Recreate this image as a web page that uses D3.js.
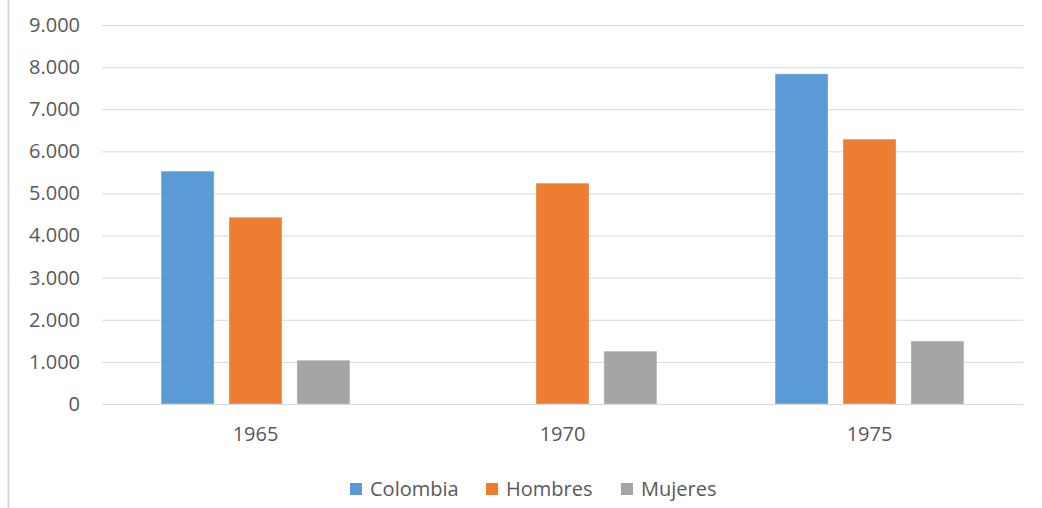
<!DOCTYPE html>
<html>
<head>
<meta charset="utf-8">
<script src="https://cdn.jsdelivr.net/npm/d3@7"></script>
<style>
  html, body { margin: 0; padding: 0; background: #fff; }
  svg { display: block; font-family: "Open Sans", "Noto Sans", sans-serif; }
</style>
</head>
<body>
<svg id="chart" width="1042" height="508"></svg>
<script>
// Population figures by year (thousands separator is ".")
const years = ["1965", "1970", "1975"];
const seriesNames = ["Colombia", "Hombres", "Mujeres"];
const colombia = [5530, null, 7840];
const hombres = [4435, 5245, 6290];
const mujeres = [1040, 1255, 1495];
const yTicks = [0, 1000, 2000, 3000, 4000, 5000, 6000, 7000, 8000, 9000];
const colors = ["#5B9BD5", "#ED7D31", "#A5A5A5"];

const seriesValues = [colombia, hombres, mujeres];

const svg = d3.select("#chart");
const plot = { left: 102, right: 1023, top: 25, bottom: 404 };
const fontSize = "20px";

// Thin frame line on the left edge
svg.append("line")
  .attr("x1", 8.5).attr("x2", 8.5).attr("y1", 0).attr("y2", 508)
  .attr("stroke", "#d9d9d9").attr("stroke-width", 2);

const y = d3.scaleLinear().domain([0, 9000]).range([plot.bottom, plot.top]);
const x0 = d3.scaleBand().domain(years).range([plot.left, plot.right]).padding(0);
const x1 = d3.scaleBand().domain(seriesNames).range([0, x0.bandwidth()])
  .paddingInner(0.22).paddingOuter(0.87);

const fmt = v => v === 0 ? "0" : d3.format(",")(v).replace(/,/g, ".");

// Horizontal gridlines with tick labels
const yAxis = d3.axisLeft(y).tickValues(yTicks).tickSize(-(plot.right - plot.left))
  .tickFormat(fmt).tickPadding(22);
const gy = svg.append("g").attr("transform", `translate(${plot.left},0)`).call(yAxis);
gy.select(".domain").remove();
gy.selectAll(".tick line").attr("stroke", "#d9d9d9").attr("stroke-width", 1);
gy.selectAll(".tick text").attr("fill", "#595959").style("font-size", fontSize)
  .style("font-family", "'Open Sans', sans-serif");

// Bars
const groups = svg.append("g").selectAll("g")
  .data(years).join("g")
  .attr("transform", d => `translate(${x0(d)},0)`);

groups.selectAll("rect")
  .data((d, i) => seriesNames.map((s, j) => ({ s, v: seriesValues[j][i], c: colors[j] }))
    .filter(e => e.v != null))
  .join("rect")
  .attr("x", d => x1(d.s))
  .attr("width", x1.bandwidth())
  .attr("y", d => y(d.v))
  .attr("height", d => y(0) - y(d.v))
  .attr("fill", d => d.c)
  .attr("stroke", "#ffffff").attr("stroke-opacity", 0.35).attr("stroke-width", 1);

// Category axis
const xAxis = d3.axisBottom(x0).tickSize(0).tickPadding(23);
const gx = svg.append("g").attr("transform", `translate(0,${plot.bottom})`).call(xAxis);
gx.select(".domain").attr("stroke", "#d9d9d9").attr("d", `M${plot.left},0.5H${plot.right}`);
gx.selectAll(".tick text").attr("fill", "#595959").style("font-size", fontSize)
  .style("font-family", "'Open Sans', sans-serif");

// Legend
const legendX = [350, 486, 621];
const legend = svg.append("g").selectAll("g").data(seriesNames).join("g")
  .attr("transform", (d, i) => `translate(${legendX[i]},489)`);
legend.append("rect").attr("x", 0).attr("y", -6).attr("width", 12).attr("height", 12)
  .attr("fill", (d, i) => colors[i]);
legend.append("text").attr("x", 20).attr("y", 0).attr("dy", "0.35em")
  .attr("fill", "#595959").style("font-size", fontSize).text(d => d);
</script>
</body>
</html>
